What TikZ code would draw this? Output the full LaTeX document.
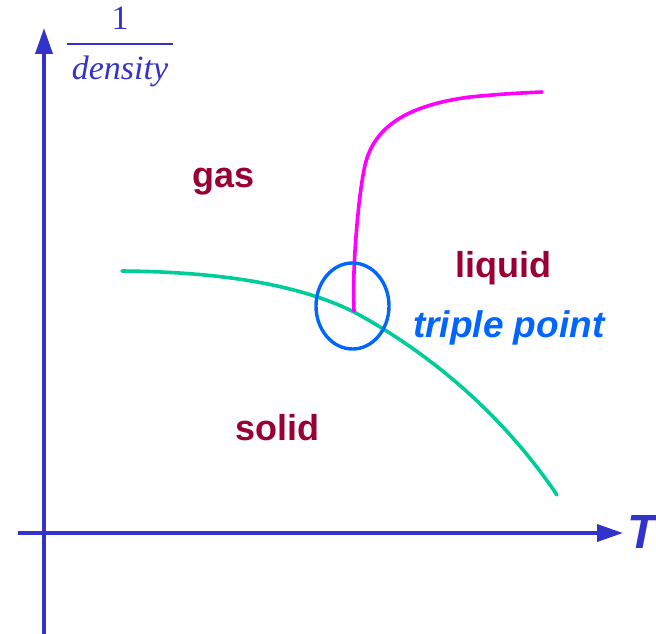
\documentclass[tikz,border=0pt]{standalone}
\usepackage{fontspec}
\newfontfamily\arialfont{Liberation Sans}
\newfontfamily\timesfont{Liberation Serif}
\usetikzlibrary{arrows.meta}

\definecolor{axisblue}{RGB}{51,51,204}
\definecolor{phasered}{RGB}{153,0,51}
\definecolor{curvemag}{RGB}{255,0,255}
\definecolor{curvegreen}{RGB}{0,204,153}
\definecolor{tripleblue}{RGB}{0,102,255}

\begin{document}
\begin{tikzpicture}[
  x=1pt, y=-1pt,
  axis/.style={axisblue, line width=3.6pt,
    -{Triangle[length=26pt,width=17pt]}},
  phaselabel/.style={phasered, anchor=base west, inner sep=0pt,
    font=\arialfont\bfseries\fontsize{36}{42}\selectfont},
  curve/.style={line width=3.6pt, line cap=round},
  fracpart/.style={axisblue, anchor=base, inner sep=0pt,
    font=\timesfont\fontsize{34}{40}\selectfont},
]
\useasboundingbox (0,0) rectangle (656,634);

%% Axes
\coordinate (ybot) at (44,634);
\coordinate (ytop) at (44,28);
\coordinate (xleft) at (18,533);
\coordinate (xright) at (623,533);
\draw[axis] (ybot) -- (ytop);
\draw[axis] (xleft) -- (xright);

%% Axis labels
\node[axisblue, anchor=base west, inner sep=0pt,
  font=\arialfont\bfseries\itshape\fontsize{48}{50}\selectfont] (tlabel) at (627,548) {T};
\node[fracpart] (one) at (120,30) {1};
\node[fracpart] (dens) at (120,80) {\textit{density}};
\coordinate (barl) at (67,44);
\coordinate (barr) at (173,44);
\draw[axisblue, line width=1.6pt] (barl) -- (barr);

%% Phase boundaries
\draw[curve, curvegreen] (122,271) .. controls (240,272) and (310,290) .. (354,312)
  .. controls (415,345) and (495,403) .. (557,495);
\draw[curve, curvemag] (354,311) .. controls (352,270) and (358,200) .. (364,170)
  .. controls (372,125) and (410,105) .. (470,97)
  .. controls (500,94) and (520,93) .. (542,92);

%% Triple point marker
\draw[tripleblue, line width=3.4pt] (352.5,306) ellipse (36.5pt and 43pt);

%% Phase labels
\node[phaselabel] (gas) at (192,187) {gas};
\node[phaselabel] (liquid) at (455,277) {liquid};
\node[phaselabel, tripleblue, font=\arialfont\bfseries\itshape\fontsize{37}{42}\selectfont] (triple) at (413,337) {triple point};
\node[phaselabel] (solid) at (235,440) {solid};

\end{tikzpicture}
\end{document}
